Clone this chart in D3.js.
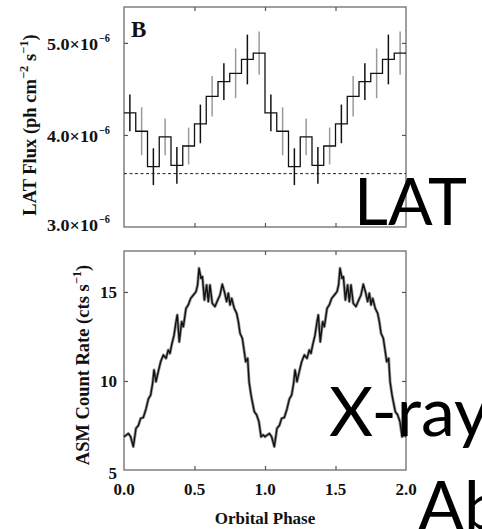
<!DOCTYPE html>
<html>
<head>
<meta charset="utf-8">
<script src="https://cdn.jsdelivr.net/npm/d3@7"></script>
<style>
  html, body { margin: 0; padding: 0; background: #fff; }
  svg { display: block; }
</style>
</head>
<body>
<svg id="chart" width="482" height="529"></svg>
<script>
// ---------- DATA ----------
// LAT flux folded on orbital phase: 12 bins per cycle (units of 1e-6 ph cm^-2 s^-1)
const latFlux = [4.24, 4.04, 3.655, 3.98, 3.67, 3.88, 4.12, 4.42, 4.58, 4.67, 4.82, 4.89];
const latErr  = [0.20, 0.26, 0.20, 0.20, 0.20, 0.20, 0.21, 0.22, 0.20, 0.27, 0.27, 0.235];
const latMean = 3.58; // dashed reference level (1e-6)
const cycles = [0, 1];

// RXTE ASM count rate folded on orbital phase (one cycle, repeated)
const asmPhase = [0.000,0.031,0.047,0.066,0.085,0.102,0.118,0.137,0.156,0.173,0.189,0.203,0.213,0.227,0.243,0.260,0.279,0.298,0.314,0.326,0.338,0.355,0.369,0.378,0.392,0.409,0.421,0.440,0.456,0.473,0.492,0.511,0.522,0.532,0.546,0.556,0.570,0.586,0.598,0.610,0.626,0.645,0.665,0.681,0.697,0.712,0.728,0.740,0.752,0.764,0.782,0.799,0.811,0.823,0.839,0.853,0.863,0.877,0.887,0.901,0.910,0.924,0.941,0.957,0.972,0.988];
const asmRate  = [6.87,7.05,6.87,6.31,7.34,7.50,7.90,7.95,8.43,8.99,9.21,9.87,10.62,9.96,10.52,11.08,11.46,11.27,11.74,11.55,12.02,12.58,13.33,13.71,12.20,13.33,13.05,14.08,14.27,14.64,14.83,15.02,15.40,16.33,15.77,15.86,14.55,15.39,14.46,15.39,14.36,14.18,14.55,14.83,15.43,15.02,14.46,14.93,14.27,14.64,14.08,13.80,13.33,12.68,12.40,11.65,11.08,11.27,9.96,9.21,8.84,8.28,8.09,7.71,6.87,6.97];

const xTicks = [0, 0.5, 1.0, 1.5, 2.0];
const xTickLabels = ["0.0", "0.5", "1.0", "1.5", "2.0"];
const latTicks = [3.0, 4.0, 5.0];
const latTickLabels = ["3.0", "4.0", "5.0"];
const asmTicks = [5, 10, 15];
const asmTickLabels = ["5", "10", "15"];

// ---------- LAYOUT ----------
const svg = d3.select("#chart");
const L = 124, R = 406;
const topP = { t: 7, b: 227 };
const botP = { t: 251, b: 470 };
const serif = "'Liberation Serif', 'Times New Roman', serif";
const frameColor = "#777";
const ink = "#111";

const x = d3.scaleLinear().domain([0, 2]).range([L, R]);
const yTop = d3.scaleLinear().domain([3.0, 5.39]).range([topP.b, topP.t]);
const yBot = d3.scaleLinear().domain([5, 17.3]).range([botP.b, botP.t]);

function frame(p, yScale, yTickVals) {
  const g = svg.append("g");
  g.append("rect").attr("x", L).attr("y", p.t).attr("width", R - L).attr("height", p.b - p.t)
    .attr("fill", "none").attr("stroke", frameColor).attr("stroke-width", 1.4);
  const inner = [0.5, 1.0, 1.5];
  const ax = [
    g.append("g").attr("transform", `translate(0,${p.b})`).call(d3.axisBottom(x).tickValues(inner).tickSize(-4).tickFormat("")),
    g.append("g").attr("transform", `translate(0,${p.t})`).call(d3.axisTop(x).tickValues(inner).tickSize(-4).tickFormat("")),
    g.append("g").attr("transform", `translate(${L},0)`).call(d3.axisLeft(yScale).tickValues(yTickVals).tickSize(-4).tickFormat("")),
    g.append("g").attr("transform", `translate(${R},0)`).call(d3.axisRight(yScale).tickValues(yTickVals).tickSize(-4).tickFormat(""))
  ];
  ax.forEach(a => {
    a.select(".domain").remove();
    a.selectAll("line").attr("stroke", "#555").attr("stroke-width", 1.2);
  });
  return g;
}

// ---------- TOP PANEL ----------
frame(topP, yTop, [4.0, 5.0]);

svg.append("line")
  .attr("x1", L).attr("x2", R)
  .attr("y1", yTop(latMean)).attr("y2", yTop(latMean))
  .attr("stroke", "#222").attr("stroke-width", 1).attr("stroke-dasharray", "3,2.5");

const bins = [];
cycles.forEach(c => latFlux.forEach((v, i) => {
  bins.push({ x0: c + i / 12, x1: c + (i + 1) / 12, v: v, e: latErr[i], idx: c * 12 + i });
}));

svg.append("g").selectAll("line").data(bins).join("line")
  .attr("x1", d => x((d.x0 + d.x1) / 2)).attr("x2", d => x((d.x0 + d.x1) / 2))
  .attr("y1", d => yTop(d.v - d.e)).attr("y2", d => yTop(d.v + d.e))
  .attr("stroke", d => d.idx % 2 === 0 ? "#111" : "#9a9a9a")
  .attr("stroke-width", 1.5);

const stepPts = bins.map(d => [d.x0, d.v]).concat([[2, bins[bins.length - 1].v]]);
svg.append("path")
  .attr("d", d3.line().x(d => x(d[0])).y(d => yTop(d[1])).curve(d3.curveStepAfter)(stepPts))
  .attr("fill", "none").attr("stroke", ink).attr("stroke-width", 1.3);

// y tick labels top (mantissa x 10^-6)
const latLabelG = svg.append("g").attr("font-family", serif).attr("font-weight", "bold").attr("fill", ink);
latTicks.forEach((t, i) => {
  const yy = yTop(t) + (t === 3.0 ? 3.5 : 7.5);
  latLabelG.append("text").attr("x", 47).attr("y", yy).attr("font-size", 17)
    .attr("textLength", 51).attr("lengthAdjust", "spacingAndGlyphs")
    .text(latTickLabels[i] + "\u00d710");
  latLabelG.append("text").attr("x", 99).attr("y", yy - 8).attr("font-size", 11.5)
    .attr("textLength", 11).attr("lengthAdjust", "spacingAndGlyphs").text("\u22126");
});

svg.append("text").attr("x", 131).attr("y", 37).attr("font-family", serif).attr("font-weight", "bold")
  .attr("font-size", 23).attr("fill", ink).text("B");

const t1 = svg.append("text").attr("transform", `translate(36,125) rotate(-90)`)
  .attr("text-anchor", "middle").attr("font-family", serif).attr("font-weight", "bold")
  .attr("font-size", 18.5).attr("fill", ink);
t1.append("tspan").text("LAT Flux (ph cm");
t1.append("tspan").attr("font-size", 12.5).attr("dy", -8).text("\u22122");
t1.append("tspan").attr("dy", 8).text(" s");
t1.append("tspan").attr("font-size", 12.5).attr("dy", -8).text("\u22121");
t1.append("tspan").attr("dy", 8).text(")");

// ---------- BOTTOM PANEL ----------
frame(botP, yBot, [10, 15]);

const asmPts = [];
cycles.forEach(c => asmPhase.forEach((p, i) => asmPts.push([c + p, asmRate[i]])));
asmPts.push([2, asmRate[0]]);

const asmLine = d3.line().x(d => x(d[0])).y(d => yBot(d[1]));
svg.append("path").attr("d", asmLine(asmPts))
  .attr("fill", "none").attr("stroke", "#6a6a6a").attr("stroke-width", 3).attr("stroke-linejoin", "round").attr("opacity", 0.7);
svg.append("path").attr("d", asmLine(asmPts))
  .attr("fill", "none").attr("stroke", ink).attr("stroke-width", 1.4).attr("stroke-linejoin", "round");

const bl = svg.append("g").attr("font-family", serif).attr("font-weight", "bold").attr("fill", ink).attr("font-size", 17);
asmTicks.forEach((t, i) => {
  bl.append("text").attr("x", 117).attr("y", yBot(t) + (t === 5 ? 9 : 6.5)).attr("text-anchor", "end").text(asmTickLabels[i]);
});
xTicks.forEach((t, i) => {
  bl.append("text").attr("x", x(t)).attr("y", 495).attr("text-anchor", "middle").text(xTickLabels[i]);
});
bl.append("text").attr("x", x(1)).attr("y", 524).attr("text-anchor", "middle").text("Orbital Phase");

const t2 = svg.append("text").attr("transform", `translate(89,365) rotate(-90)`)
  .attr("text-anchor", "middle").attr("font-family", serif).attr("font-weight", "bold")
  .attr("font-size", 18.5).attr("fill", ink);
t2.append("tspan").text("ASM Count Rate (cts s");
t2.append("tspan").attr("font-size", 12.5).attr("dy", -8).text("\u22121");
t2.append("tspan").attr("dy", 8).text(")");

// ---------- OVERLAY SLIDE TEXT ----------
const sans = "Lato, 'Open Sans', sans-serif";
svg.append("text").attr("x", 354).attr("y", 225).attr("font-family", sans).attr("font-size", 66).attr("fill", "#000").text("LAT");
svg.append("text").attr("x", 329).attr("y", 436).attr("font-family", sans).attr("font-size", 68).attr("fill", "#000").text("X-ray");
svg.append("text").attr("x", 418).attr("y", 530).attr("font-family", sans).attr("font-size", 68).attr("fill", "#000").text("Ab");
</script>
</body>
</html>
